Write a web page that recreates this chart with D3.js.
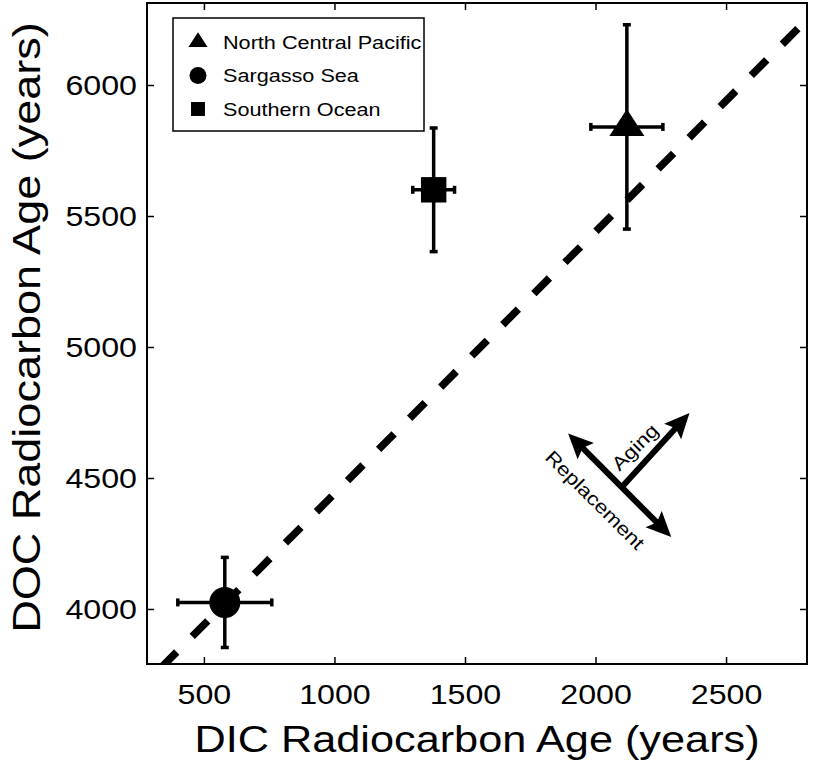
<!DOCTYPE html>
<html lang="en">
<head>
<meta charset="utf-8">
<title>DOC vs DIC radiocarbon age</title>
<script src="https://cdn.jsdelivr.net/npm/d3@7"></script>
<style>
  body { margin: 0; background: #fff; }
  svg { display: block; }
  text { font-family: "Liberation Sans", Arial, Helvetica, sans-serif; fill: #000; }
</style>
</head>
<body>
<div id="chart"><svg></svg></div>
<script>
// data (years)
var sites    = ["North Central Pacific", "Sargasso Sea", "Southern Ocean"];
var symbols  = ["triangle", "circle", "square"];
var dicAge   = [2120, 580, 1380];
var dicErr   = [138, 180, 80];
var docAge   = [5840, 4025, 5600];
var docErr   = [390, 172, 236];

// 1:1 reference line (dashed), drawn from the upper end down
var refX = [2775, 300];
var refY = [6215, 3740];

var xTicks = [500, 1000, 1500, 2000, 2500];
var yTicks = [4000, 4500, 5000, 5500, 6000];

// annotation arrows, in data coords
var replArrow  = [[1895, 4670], [2290, 4275]];
var agingArrow = [[2100, 4465], [2360, 4748]];
var arrowLabels = ["Aging", "Replacement"];
var arrowLabelPos = [[2151, 4618], [1998, 4416]];
var arrowLabelRot = [-45, 45];

var W = 814, H = 765;
var SX = 1.17;   // glyphs in the source are a bit wider than Arial
var pL = 147, pR = 807, pT = 3, pB = 664;

var svg = d3.select('#chart svg').attr('width', W).attr('height', H);

var x = d3.scaleLinear().domain([282, 2810]).range([pL, pR]);
var y = d3.scaleLinear().domain([3790, 6313]).range([pB, pT]);

function label(g, px, py, rot, size, anchor, str) {
    return g.append('text')
        .attr('transform', 'translate(' + px + ',' + py + ') rotate(' + rot + ') scale(' + SX + ',1)')
        .attr('text-anchor', anchor)
        .style('font-size', size + 'px')
        .text(str);
}

svg.append('clipPath').attr('id', 'plotclip')
    .append('rect')
    .attr('x', pL).attr('y', pT)
    .attr('width', pR - pL).attr('height', pB - pT);

// axes, ticks point inwards on all four sides
var fmt = d3.format('d');
var gx = svg.append('g').attr('transform', 'translate(0,' + pB + ')')
    .call(d3.axisBottom(x).tickValues(xTicks).tickFormat(fmt).tickSizeInner(-7).tickSizeOuter(0).tickPadding(20));
var gy = svg.append('g').attr('transform', 'translate(' + pL + ',0)')
    .call(d3.axisLeft(y).tickValues(yTicks).tickFormat(fmt).tickSizeInner(-7).tickSizeOuter(0).tickPadding(10));
svg.append('g').attr('transform', 'translate(0,' + pT + ')')
    .call(d3.axisTop(x).tickValues(xTicks).tickSizeInner(-7).tickSizeOuter(0).tickFormat(''));
svg.append('g').attr('transform', 'translate(' + pR + ',0)')
    .call(d3.axisRight(y).tickValues(yTicks).tickSizeInner(-7).tickSizeOuter(0).tickFormat(''));

svg.selectAll('.domain').remove();
svg.selectAll('.tick line').attr('stroke', '#000').attr('stroke-width', 1.5);

gx.selectAll('.tick text')
    .attr('font-family', null).style('font-size', '27.5px')
    .attr('transform', 'scale(' + SX + ',1)')
    .attr('x', 0);
gy.selectAll('.tick text')
    .attr('font-family', null).style('font-size', '27.5px')
    .attr('transform', 'translate(-10,0) scale(' + SX + ',1)')
    .attr('x', 0).attr('dy', '0.36em');

svg.append('rect')
    .attr('x', pL).attr('y', pT)
    .attr('width', pR - pL).attr('height', pB - pT)
    .attr('fill', 'none').attr('stroke', '#000').attr('stroke-width', 2);

label(svg, (pL + pR) / 2, 752, 0, 37, 'middle', 'DIC Radiocarbon Age (years)');
label(svg, 40, (pT + pB) / 2 - 6, -90, 38.5, 'middle', 'DOC Radiocarbon Age (years)');

var plot = svg.append('g').attr('clip-path', 'url(#plotclip)');

// dashed 1:1 line
plot.append('line')
    .attr('x1', x(refX[0])).attr('y1', y(refY[0]))
    .attr('x2', x(refX[1])).attr('y2', y(refY[1]))
    .attr('stroke', '#000').attr('stroke-width', 7.5)
    .attr('stroke-dasharray', '22,22');

// error bars
var cap = 4;
for (var i = 0; i < sites.length; i++) {
    var cx = x(dicAge[i]), cy = y(docAge[i]);
    var x0 = x(dicAge[i] - dicErr[i]), x1 = x(dicAge[i] + dicErr[i]);
    var y0 = y(docAge[i] - docErr[i]), y1 = y(docAge[i] + docErr[i]);
    var eb = plot.append('g').attr('stroke', '#000').attr('stroke-width', 3.5);
    eb.append('line').attr('x1', x0).attr('x2', x1).attr('y1', cy).attr('y2', cy);
    eb.append('line').attr('x1', cx).attr('x2', cx).attr('y1', y0).attr('y2', y1);
    eb.append('line').attr('x1', x0).attr('x2', x0).attr('y1', cy - cap).attr('y2', cy + cap);
    eb.append('line').attr('x1', x1).attr('x2', x1).attr('y1', cy - cap).attr('y2', cy + cap);
    eb.append('line').attr('x1', cx - cap).attr('x2', cx + cap).attr('y1', y0).attr('y2', y0);
    eb.append('line').attr('x1', cx - cap).attr('x2', cx + cap).attr('y1', y1).attr('y2', y1);
}

function marker(g, kind, cx, cy, s) {
    // s = nominal size in px
    if (kind == 'circle') {
        g.append('circle').attr('cx', cx).attr('cy', cy).attr('r', s / 2).attr('fill', '#000');
    } else if (kind == 'square') {
        var a = s * 0.82;
        g.append('rect').attr('x', cx - a / 2).attr('y', cy - a / 2)
            .attr('width', a).attr('height', a).attr('fill', '#000');
    } else {
        var w = s * 1.13, h = s * 0.87;
        g.append('path')
            .attr('d', 'M' + cx + ',' + (cy - 2 * h / 3) +
                       'L' + (cx + w / 2) + ',' + (cy + h / 3) +
                       'L' + (cx - w / 2) + ',' + (cy + h / 3) + 'Z')
            .attr('fill', '#000');
    }
}

for (var i = 0; i < sites.length; i++) {
    marker(plot, symbols[i], x(dicAge[i]), y(docAge[i]), 31);
}

// arrows
function arrowHead(g, from, to) {
    var ang = Math.atan2(to[1] - from[1], to[0] - from[0]);
    var L = 25, hw = 11.5;
    var bx = to[0] - L * Math.cos(ang), by = to[1] - L * Math.sin(ang);
    var px = -Math.sin(ang) * hw, py = Math.cos(ang) * hw;
    g.append('path')
        .attr('d', 'M' + to[0] + ',' + to[1] +
                   'L' + (bx + px) + ',' + (by + py) +
                   'L' + (bx + L * 0.18 * Math.cos(ang)) + ',' + (by + L * 0.18 * Math.sin(ang)) +
                   'L' + (bx - px) + ',' + (by - py) + 'Z')
        .attr('fill', '#000');
}
function shorten(from, to) {
    var ang = Math.atan2(to[1] - from[1], to[0] - from[0]);
    return [to[0] - 18 * Math.cos(ang), to[1] - 18 * Math.sin(ang)];
}

var arr = plot.append('g');
var r0 = [x(replArrow[0][0]), y(replArrow[0][1])];
var r1 = [x(replArrow[1][0]), y(replArrow[1][1])];
var a0 = [x(agingArrow[0][0]), y(agingArrow[0][1])];
var a1 = [x(agingArrow[1][0]), y(agingArrow[1][1])];
var re0 = shorten(r1, r0), re1 = shorten(r0, r1), ae1 = shorten(a0, a1);
arr.append('line').attr('x1', re0[0]).attr('y1', re0[1]).attr('x2', re1[0]).attr('y2', re1[1])
    .attr('stroke', '#000').attr('stroke-width', 6);
arr.append('line').attr('x1', a0[0]).attr('y1', a0[1]).attr('x2', ae1[0]).attr('y2', ae1[1])
    .attr('stroke', '#000').attr('stroke-width', 6);
arrowHead(arr, r1, r0);
arrowHead(arr, r0, r1);
arrowHead(arr, a0, a1);

for (var i = 0; i < arrowLabels.length; i++) {
    label(svg, x(arrowLabelPos[i][0]), y(arrowLabelPos[i][1]), arrowLabelRot[i], 19, 'middle', arrowLabels[i])
        .attr('dy', '0.35em');
}

// legend
var leg = svg.append('g');
leg.append('rect').attr('x', 173).attr('y', 18).attr('width', 251).attr('height', 113)
    .attr('fill', '#fff').attr('stroke', '#000').attr('stroke-width', 1.5);
for (var i = 0; i < sites.length; i++) {
    var ly = 42 + i * 33.5;
    marker(leg, symbols[i], 198, ly, 17);
    label(leg, 223, ly, 0, 18.5, 'start', sites[i]).attr('dy', '0.36em');
}
</script>
</body>
</html>
